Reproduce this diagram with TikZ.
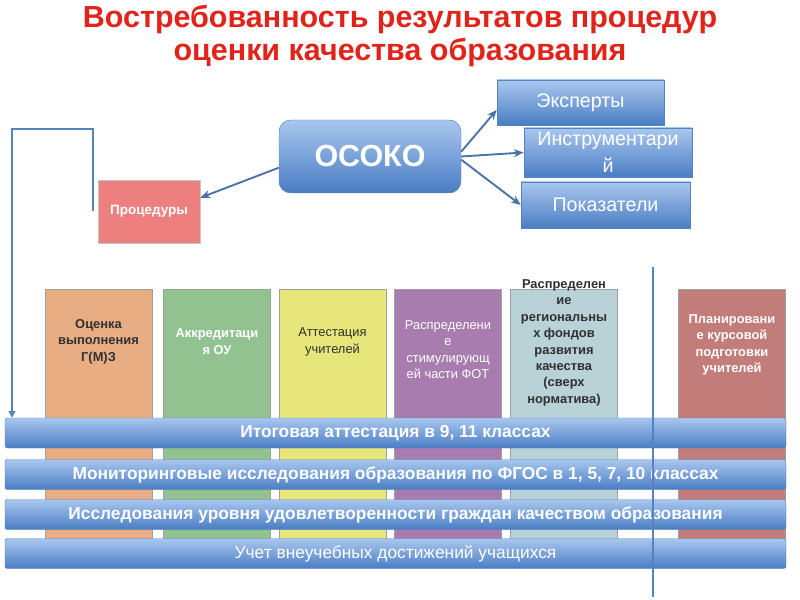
\documentclass[tikz,border=0pt]{standalone}
\usepackage{fontspec}
\setmainfont{Liberation Sans}
\usetikzlibrary{arrows.meta, positioning, calc}
\definecolor{sqred}{HTML}{E2231A}
\definecolor{sqbluetop}{HTML}{A9C7EE}
\definecolor{sqbluebot}{HTML}{4A7DC4}
\definecolor{sqblueline}{HTML}{5682BE}
\definecolor{sqarrow}{HTML}{4A72A6}
\definecolor{sqpink}{HTML}{EE7F7F}
\definecolor{sqpeach}{HTML}{E8AD83}
\definecolor{sqgreen}{HTML}{93C291}
\definecolor{sqyellow}{HTML}{E7E67B}
\definecolor{sqpurple}{HTML}{A87CAE}
\definecolor{sqcyan}{HTML}{B8D2D8}
\definecolor{sqrose}{HTML}{C27C7A}
\definecolor{sqgray}{HTML}{A0A0A0}
\definecolor{sqdark}{HTML}{303030}

\begin{document}
\begin{tikzpicture}[x=0.3mm, y=-0.3mm,
  sz/.style 2 args={minimum width=#1*0.3mm, minimum height=#2*0.3mm},
  bluebox/.style={draw=sqblueline, top color=sqbluetop, bottom color=sqbluebot, text=white, inner sep=0pt, align=center, font=\fontsize{16.8}{23}\selectfont},
  colbox/.style={draw=sqgray, fill=#1, inner sep=0pt, sz={107}{277}},
  coltext/.style={align=center, inner sep=0pt, text=#1, font=\fontsize{11}{14}\selectfont},
  coltextb/.style={align=center, inner sep=0pt, text=#1, font=\bfseries\fontsize{11}{14}\selectfont},
  bar/.style={bluebox, rounded corners=2pt, sz={781}{30}, font=\bfseries\fontsize{14.8}{16}\selectfont},
  arr/.style={-{Stealth[length=3mm, width=2.4mm]}, line width=1.6pt, sqarrow},
  fb/.style={line width=1.4pt, sqblueline},
]
  \useasboundingbox (0,0) rectangle (800,600);

  \node[font=\bfseries\fontsize{26}{27.5}\selectfont, text=sqred, align=center] (title) at (400,36) {Востребованность результатов процедур\\оценки качества образования};

  \node[bluebox, rounded corners=10pt, sz={182}{73}, font=\bfseries\fontsize{26}{26}\selectfont] (osoko) at (370,156.5) {ОСОКО};
  \node[bluebox, sz={167}{45}] (expert) at (580.5,102.5) {Эксперты};
  \node[bluebox, sz={168}{49}] (instr) at (608,152.5) {Инструментари\\й};
  \node[bluebox, sz={169}{46}] (pokaz) at (605.5,205) {Показатели};
  \node[draw=sqgray!60, fill=sqpink, sz={102}{63}, text=white, font=\bfseries\fontsize{11.5}{12}\selectfont] (proc) at (149,211.5) {Процедуры};

  \draw[arr] (osoko.187) -- (proc.15);
  \draw[arr] (osoko.3) -- (expert.185);
  \draw[arr] (osoko.east) -- (instr.west);
  \draw[arr] (osoko.-2) -- (pokaz.west);

  % columns
  \node[colbox=sqpeach] (c1) at (98.5,427.5) {};
  \node[colbox=sqgreen] (c2) at (217,427.5) {};
  \node[colbox=sqyellow] (c3) at (332.5,427.5) {};
  \node[colbox=sqpurple] (c4) at (448,427.5) {};
  \node[colbox=sqcyan] (c5) at (564,427.5) {};
  \node[colbox=sqrose] (c6) at (732,427.5) {};

  \node[coltextb=sqdark] (t1) at ($(c1.north)+(0,53)$) {Оценка\\выполнения\\Г(М)З};
  \node[coltextb=white] (t2) at ($(c2.north)+(0,53)$) {Аккредитаци\\я ОУ};
  \node[coltext=sqdark] (t3) at ($(c3.north)+(0,53)$) {Аттестация\\учителей};
  \node[coltext=white] (t4) at ($(c4.north)+(0,61)$) {Распределени\\е\\стимулирующ\\ей части ФОТ};
  \node[coltextb=sqdark] (t5) at ($(c5.north)+(0,54)$) {Распределен\\ие\\региональны\\х фондов\\развития\\качества\\(сверх\\норматива)};
  \node[coltextb=white] (t6) at ($(c6.north)+(0,56)$) {Планировани\\е курсовой\\подготовки\\учителей};

  % bars
  \node[bar] (bar1) at (395.5,433) {Итоговая аттестация в 9, 11 классах};
  \node[bar] (bar2) at (395.5,474.5) {Мониторинговые исследования образования по ФГОС в 1, 5, 7, 10 классах};
  \node[bar] (bar3) at (395.5,514.5) {Исследования уровня удовлетворенности граждан качеством образования};
  \node[bar, font=\fontsize{14.8}{16}\selectfont] (bar4) at (395.5,553.5) {Учет внеучебных достижений учащихся};

  % feedback line
  \coordinate (fbtop) at (93,129);
  \coordinate (fbleft) at (12,129);
  \draw[fb, -{Triangle[length=2mm, width=2mm]}] (proc.west -| fbtop) -- (fbtop) -- (fbleft) -- (fbleft |- bar1.north);

  \coordinate (vtop) at (653,267);
  \coordinate (vbot) at (653,597);
  \draw[sqblueline, line width=1.2pt] (vtop) -- (vbot);
\end{tikzpicture}
\end{document}
